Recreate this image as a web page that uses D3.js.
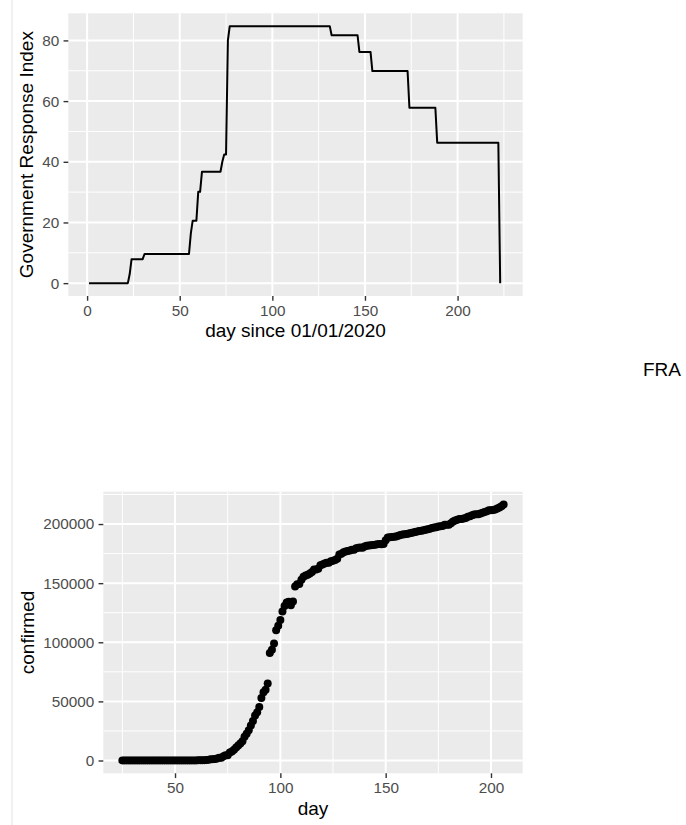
<!DOCTYPE html>
<html><head><meta charset="utf-8">
<script src="https://cdn.jsdelivr.net/npm/d3@7"></script>
<style>
body{margin:0;background:#fff;}
text{font-family:"Liberation Sans",Arial,Helvetica,sans-serif;}
</style>
</head><body>
<svg id="c" width="686" height="825"></svg>
<script>
// ---- Government Response Index (breakpoints of the step line) ----
const griDays   = [1, 22, 23, 24, 30, 31, 55, 56, 57, 59, 60, 61, 62, 72, 73, 74, 75, 76, 77, 131, 132, 146, 147, 153, 154, 173, 174, 188, 189, 222, 223];
const griValues = [0, 0, 3, 7.9, 7.9, 9.6, 9.6, 16.4, 20.6, 20.6, 30.1, 30.1, 36.7, 36.7, 40, 42.4, 42.4, 80, 84.7, 84.7, 81.7, 81.7, 76.2, 76.2, 69.9, 69.9, 57.8, 57.8, 46.3, 46.3, 0];
const griXLimits = [-10.15, 235.15];
const griXTicks = [0, 50, 100, 150, 200];
const griYTicks = [0, 20, 40, 60, 80];

// ---- Confirmed cases (FRA), one value per day from day 25 to day 206 ----
const confFirstDay = 25, confLastDay = 206;
const confValues = [
  3,3,3,4,5,5,5,
  6,6,6,6,6,6,6,
  11,11,11,11,11,11,11,
  12,12,12,12,12,12,12,
  12,12,12,12,18,38,57,
  100,130,191,204,288,380,656,
  957,1134,1217,1792,2290,2290,3678,
  4487,4523,6683,7715,9124,10970,12758,
  14463,16243,20123,22622,25600,29551,33402,
  38105,40708,45170,52827,57749,59929,65202,
  90848,93773,98963,110065,113959,118781,125931,
  130727,133670,134200,131361,134582,147091,149149,
  149232,152894,155393,156495,157125,158168,159460,
  161488,161644,162100,165093,165764,166543,167178,
  167305,168518,168925,169583,170687,174191,174791,
  176202,176782,177094,177547,178349,178184,179569,
  179927,180159,180051,180933,181700,181951,182036,
  182219,182469,182847,183067,182913,183038,186364,
  188625,188752,189009,189348,189569,190180,190759,
  191102,191313,191538,192068,192493,192934,193220,
  193746,194153,194305,194715,195270,195633,196083,
  196638,197008,197381,197885,198181,198385,199343,
  199473,199476,200707,202063,202981,203640,204222,
  204222,204752,205161,206072,206696,207456,208015,
  208361,208361,208953,209640,210243,210732,211603,
  211626,211943,212211,213097,213923,214992,216530
];
const confDays = d3.range(confFirstDay, confLastDay + 1);
const confXTicks = [50, 100, 150, 200];
const confYTicks = [0, 50000, 100000, 150000, 200000];

const countryLabel = "FRA";
const griXTitle = "day since 01/01/2020", griYTitle = "Government Response Index";
const confXTitle = "day", confYTitle = "confirmed";

// ---------------------------------------------------------------
const svg = d3.select("#c");
const TICK = 4.75, PAD = 4.2, LABEL_FS = 15.3, TITLE_FS = 19;

// thin border line on the left
svg.append("line").attr("x1", 12).attr("x2", 12).attr("y1", 0).attr("y2", 825)
  .attr("stroke", "#e2e2e2").attr("stroke-width", 1);

function expand(ext) { const r = ext[1] - ext[0]; return [ext[0] - 0.05 * r, ext[1] + 0.05 * r]; }
function minorBreaks(b, lim) {
  const step = b[1] - b[0];
  const bb = [b[0] - step, ...b, b[b.length - 1] + step];
  const out = [];
  for (let i = 0; i < bb.length - 1; i++) out.push((bb[i] + bb[i + 1]) / 2);
  return out.filter(v => v > Math.min(...lim) && v < Math.max(...lim));
}

function panel(box, x, y, xt, yt) {
  const g = svg.append("g");
  g.append("rect").attr("x", box.l).attr("y", box.t).attr("width", box.r - box.l).attr("height", box.b - box.t).attr("fill", "#ebebeb");
  const mx = minorBreaks(xt, x.domain()), my = minorBreaks(yt, y.domain());
  g.selectAll(null).data(mx).join("line").attr("x1", d => x(d)).attr("x2", d => x(d)).attr("y1", box.t).attr("y2", box.b).attr("stroke", "#fff").attr("stroke-width", 1);
  g.selectAll(null).data(my).join("line").attr("y1", d => y(d)).attr("y2", d => y(d)).attr("x1", box.l).attr("x2", box.r).attr("stroke", "#fff").attr("stroke-width", 1);
  g.selectAll(null).data(xt).join("line").attr("x1", d => x(d)).attr("x2", d => x(d)).attr("y1", box.t).attr("y2", box.b).attr("stroke", "#fff").attr("stroke-width", 2);
  g.selectAll(null).data(yt).join("line").attr("y1", d => y(d)).attr("y2", d => y(d)).attr("x1", box.l).attr("x2", box.r).attr("stroke", "#fff").attr("stroke-width", 2);

  const ax = svg.append("g").attr("transform", `translate(0,${box.b})`)
    .call(d3.axisBottom(x).tickValues(xt).tickSize(TICK).tickPadding(PAD).tickFormat(d3.format("d")));
  const ay = svg.append("g").attr("transform", `translate(${box.l},0)`)
    .call(d3.axisLeft(y).tickValues(yt).tickSize(TICK).tickPadding(PAD).tickFormat(d3.format("d")));
  [ax, ay].forEach(a => {
    a.select(".domain").remove();
    a.selectAll(".tick line").attr("stroke", "#333").attr("stroke-width", 1.4);
    a.selectAll(".tick text").attr("fill", "#4d4d4d").style("font-size", LABEL_FS + "px")
      .style("font-family", '"Liberation Sans",Arial,Helvetica,sans-serif');
  });
}

function titles(box, xTitle, yTitle, xBase, yBase) {
  svg.append("text").attr("x", (box.l + box.r) / 2).attr("y", xBase).attr("text-anchor", "middle")
    .attr("fill", "#000").style("font-size", TITLE_FS + "px").text(xTitle);
  svg.append("text").attr("transform", `translate(${yBase},${(box.t + box.b) / 2}) rotate(-90)`)
    .attr("text-anchor", "middle").attr("fill", "#000").style("font-size", TITLE_FS + "px").text(yTitle);
}

// ---- top chart ----
const b1 = { l: 68.3, r: 522.7, t: 13.3, b: 296 };
const x1 = d3.scaleLinear().domain(griXLimits).range([b1.l, b1.r]);
const y1 = d3.scaleLinear().domain(expand([0, d3.max(griValues)])).range([b1.b, b1.t]);
panel(b1, x1, y1, griXTicks, griYTicks);
const gri = griDays.map((d, i) => [d, griValues[i]]);
svg.append("path").datum(gri)
  .attr("d", d3.line().x(d => x1(d[0])).y(d => y1(d[1])))
  .attr("fill", "none").attr("stroke", "#000").attr("stroke-width", 2).attr("stroke-linejoin", "round");
titles(b1, griXTitle, griYTitle, 337, 33);

// ---- bottom chart ----
const b2 = { l: 103.3, r: 522.7, t: 491.7, b: 773.3 };
const x2 = d3.scaleLinear().domain(expand(d3.extent(confDays))).range([b2.l, b2.r]);
const y2 = d3.scaleLinear().domain(expand([0, d3.max(confValues)])).range([b2.b, b2.t]);
panel(b2, x2, y2, confXTicks, confYTicks);
svg.append("g").selectAll("circle").data(confDays.map((d, i) => [d, confValues[i]])).join("circle")
  .attr("cx", d => x2(d[0])).attr("cy", d => y2(d[1])).attr("r", 4).attr("fill", "#000");
titles(b2, confXTitle, confYTitle, 815, 34);

// ---- country label ----
svg.append("text").attr("x", 643).attr("y", 376).attr("fill", "#000")
  .style("font-size", TITLE_FS + "px").text(countryLabel);
</script>
</body></html>
